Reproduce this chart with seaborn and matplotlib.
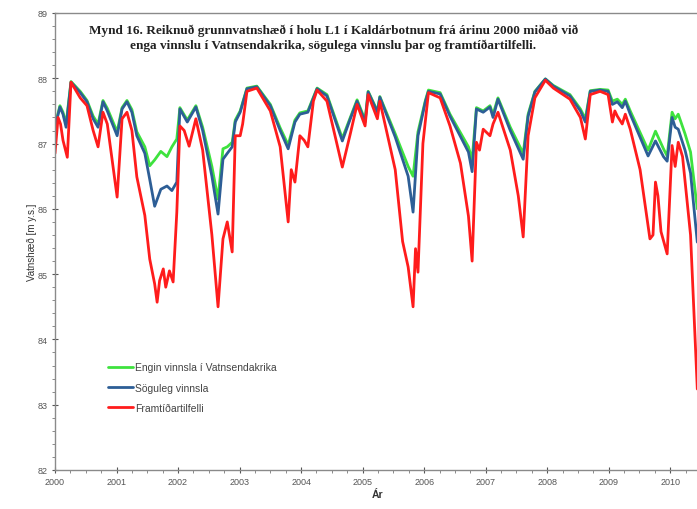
import matplotlib
matplotlib.use("Agg")
import matplotlib.pyplot as plt
from matplotlib.ticker import MultipleLocator
import seaborn as sns
import pandas as pd

sns.set_theme(style="white")
plt.rcParams["font.family"] = ["Liberation Sans", "DejaVu Sans"]

# Series labels
series_names = ["Engin vinnsla í Vatnsendakrika", "Söguleg vinnsla", "Framtíðartilfelli"]
series_colors = ["#3ee23e", "#2d5e96", "#ff1c1c"]

# Engin vinnsla í Vatnsendakrika (decimal year, m y.s.)
green_year = [2000.00, 2000.08, 2000.13, 2000.18, 2000.26, 2000.41, 2000.52, 2000.62, 2000.70,
              2000.78, 2000.85, 2001.01, 2001.09, 2001.17, 2001.25, 2001.33, 2001.46, 2001.54,
              2001.62, 2001.72, 2001.82, 2001.90, 2001.98, 2002.03, 2002.15, 2002.29, 2002.40,
              2002.55, 2002.65, 2002.73, 2002.80, 2002.88, 2002.93, 2003.01, 2003.12, 2003.28,
              2003.50, 2003.66, 2003.79, 2003.90, 2003.98, 2004.11, 2004.26, 2004.42, 2004.67,
              2004.80, 2004.91, 2005.04, 2005.09, 2005.24, 2005.28, 2005.53, 2005.74, 2005.82,
              2005.90, 2006.02, 2006.07, 2006.26, 2006.42, 2006.72, 2006.78, 2006.85, 2006.96,
              2007.07, 2007.12, 2007.20, 2007.40, 2007.61, 2007.69, 2007.80, 2007.97, 2008.10,
              2008.37, 2008.54, 2008.62, 2008.70, 2008.86, 2008.99, 2009.06, 2009.14, 2009.22,
              2009.27, 2009.35, 2009.64, 2009.76, 2009.89, 2009.95, 2010.03, 2010.08, 2010.13,
              2010.24, 2010.33, 2010.44]
green_level = [87.28, 87.58, 87.48, 87.30, 87.95, 87.80, 87.66, 87.42, 87.30,
               87.66, 87.54, 87.18, 87.55, 87.66, 87.52, 87.18, 86.95, 86.66,
               86.75, 86.88, 86.80, 86.95, 87.07, 87.55, 87.36, 87.58, 87.25,
               86.65, 86.15, 86.92, 86.95, 87.02, 87.36, 87.50, 87.85, 87.88,
               87.60, 87.24, 86.98, 87.36, 87.47, 87.50, 87.85, 87.75, 87.08,
               87.40, 87.67, 87.36, 87.80, 87.50, 87.72, 87.15, 86.65, 86.50,
               87.18, 87.66, 87.82, 87.78, 87.45, 86.95, 86.75, 87.55, 87.50,
               87.58, 87.45, 87.70, 87.25, 86.85, 87.45, 87.80, 87.99, 87.89,
               87.75, 87.53, 87.38, 87.81, 87.83, 87.82, 87.65, 87.68, 87.60,
               87.68, 87.50, 86.90, 87.19, 86.92, 86.81, 87.48, 87.38, 87.45,
               87.15, 86.87, 86.00]

# Söguleg vinnsla
blue_year = green_year
blue_level = [87.25, 87.56, 87.45, 87.25, 87.94, 87.78, 87.64, 87.38, 87.25,
              87.64, 87.50, 87.12, 87.53, 87.64, 87.48, 87.12, 86.85, 86.45,
              86.04, 86.30, 86.35, 86.28, 86.41, 87.53, 87.33, 87.56, 87.20,
              86.50, 85.92, 86.76, 86.85, 86.95, 87.33, 87.48, 87.84, 87.87,
              87.58, 87.20, 86.92, 87.33, 87.45, 87.48, 87.84, 87.73, 87.04,
              87.38, 87.65, 87.33, 87.79, 87.48, 87.71, 87.10, 86.50, 85.95,
              87.12, 87.64, 87.80, 87.76, 87.42, 86.87, 86.57, 87.53, 87.48,
              87.56, 87.40, 87.68, 87.20, 86.76, 87.42, 87.79, 87.99, 87.88,
              87.73, 87.50, 87.33, 87.80, 87.82, 87.80, 87.60, 87.64, 87.55,
              87.65, 87.45, 86.81, 87.04, 86.80, 86.73, 87.40, 87.25, 87.22,
              86.90, 86.55, 85.49]

# Framtíðartilfelli
red_year = [2000.00, 2000.05, 2000.09, 2000.13, 2000.20, 2000.26, 2000.41, 2000.52, 2000.62,
            2000.70, 2000.78, 2000.85, 2001.01, 2001.09, 2001.17, 2001.25, 2001.33, 2001.46,
            2001.54, 2001.62, 2001.66, 2001.70, 2001.76, 2001.80, 2001.86, 2001.92, 2001.98,
            2002.03, 2002.10, 2002.18, 2002.29, 2002.40, 2002.55, 2002.65, 2002.73, 2002.80,
            2002.88, 2002.93, 2003.01, 2003.05, 2003.12, 2003.28, 2003.50, 2003.66, 2003.79,
            2003.84, 2003.90, 2003.98, 2004.05, 2004.11, 2004.20, 2004.26, 2004.42, 2004.67,
            2004.80, 2004.91, 2005.04, 2005.09, 2005.24, 2005.28, 2005.53, 2005.65, 2005.74,
            2005.82, 2005.86, 2005.90, 2005.98, 2006.07, 2006.26, 2006.42, 2006.59, 2006.72,
            2006.78, 2006.85, 2006.90, 2006.96, 2007.07, 2007.12, 2007.20, 2007.40, 2007.53,
            2007.61, 2007.69, 2007.80, 2007.97, 2008.10, 2008.37, 2008.54, 2008.62, 2008.70,
            2008.86, 2008.99, 2009.06, 2009.10, 2009.14, 2009.22, 2009.27, 2009.35, 2009.51,
            2009.67, 2009.72, 2009.76, 2009.80, 2009.85, 2009.95, 2010.03, 2010.08, 2010.13,
            2010.20, 2010.33, 2010.44]
red_level = [86.85, 87.40, 87.30, 87.05, 86.79, 87.94, 87.70, 87.58, 87.20,
             86.95, 87.48, 87.30, 86.18, 87.38, 87.48, 87.20, 86.49, 85.90,
             85.23, 84.85, 84.57, 84.90, 85.08, 84.80, 85.05, 84.88, 85.95,
             87.27, 87.20, 86.96, 87.38, 86.90, 85.60, 84.50, 85.54, 85.80,
             85.34, 87.12, 87.12, 87.30, 87.80, 87.85, 87.50, 86.95, 85.80,
             86.60, 86.41, 87.12, 87.05, 86.95, 87.65, 87.82, 87.65, 86.64,
             87.15, 87.60, 87.27, 87.75, 87.38, 87.65, 86.60, 85.50, 85.11,
             84.50, 85.39, 85.03, 87.00, 87.78, 87.70, 87.27, 86.70, 85.89,
             85.20, 87.02, 86.90, 87.22, 87.12, 87.30, 87.48, 86.90, 86.20,
             85.57, 87.12, 87.70, 87.97, 87.85, 87.68, 87.40, 87.07, 87.75,
             87.80, 87.75, 87.33, 87.50, 87.42, 87.30, 87.45, 87.22, 86.60,
             85.54, 85.60, 86.41, 86.20, 85.65, 85.31, 86.97, 86.65, 87.02,
             86.80, 85.60, 83.24]

year_ticks = list(range(2000, 2011))
level_ticks = list(range(82, 90))

fig = plt.figure(figsize=(6.97, 5.10), dpi=100)
ax = fig.add_axes([55 / 697, 1 - 471 / 510, 646 / 697, 457 / 510])

frames = [
    pd.DataFrame({"year": green_year, "level": green_level}),
    pd.DataFrame({"year": blue_year, "level": blue_level}),
    pd.DataFrame({"year": red_year, "level": red_level}),
]
for df, name, color in zip(frames, series_names, series_colors):
    sns.lineplot(data=df, x="year", y="level", ax=ax, color=color, linewidth=2.0,
                 label=name, sort=False, estimator=None)

ax.set_xlim(2000, 2010.5)
ax.set_ylim(82, 89)
ax.set_xticks(year_ticks)
ax.set_xticklabels([str(y) for y in year_ticks])
ax.set_yticks(level_ticks)
ax.set_yticklabels([str(v) for v in level_ticks])
ax.yaxis.set_minor_locator(MultipleLocator(0.2))
ax.xaxis.set_minor_locator(MultipleLocator(0.25))
ax.tick_params(axis="both", which="major", labelsize=6.5, colors="#555555",
               length=4, width=0.8, direction="inout", pad=3)
ax.tick_params(axis="both", which="minor", length=2, width=0.6, color="#777777")
ax.tick_params(axis="x", which="both", bottom=True)
ax.tick_params(axis="y", which="both", left=True)

for side in ["left", "bottom", "top"]:
    ax.spines[side].set_color("#8a8a8a")
    ax.spines[side].set_linewidth(1.0)
ax.spines["right"].set_visible(False)

ax.set_xlabel("Ár", fontsize=7.5, fontweight="bold", color="#333333", labelpad=2)
ax.set_ylabel("Vatnshæð [m y.s.]", fontsize=7, color="#333333", labelpad=1)

leg = ax.legend(loc="upper left", bbox_to_anchor=(0.068, 0.256), frameon=False,
                fontsize=7.5, handlelength=2.4, handletextpad=0.2, labelspacing=0.98)
for text in leg.get_texts():
    text.set_color("#444444")

fig.text(0.478, 0.925, "Mynd 16. Reiknuð grunnvatnshæð í holu L1 í Kaldárbotnum frá árinu 2000 miðað við\n"
         "enga vinnslu í Vatnsendakrika, sögulega vinnslu þar og framtíðartilfelli.",
         ha="center", va="center", fontsize=9.5, fontweight="bold", color="#222222",
         family=["Liberation Serif", "DejaVu Serif"], linespacing=1.35)

fig.savefig("out.png", dpi=100)
